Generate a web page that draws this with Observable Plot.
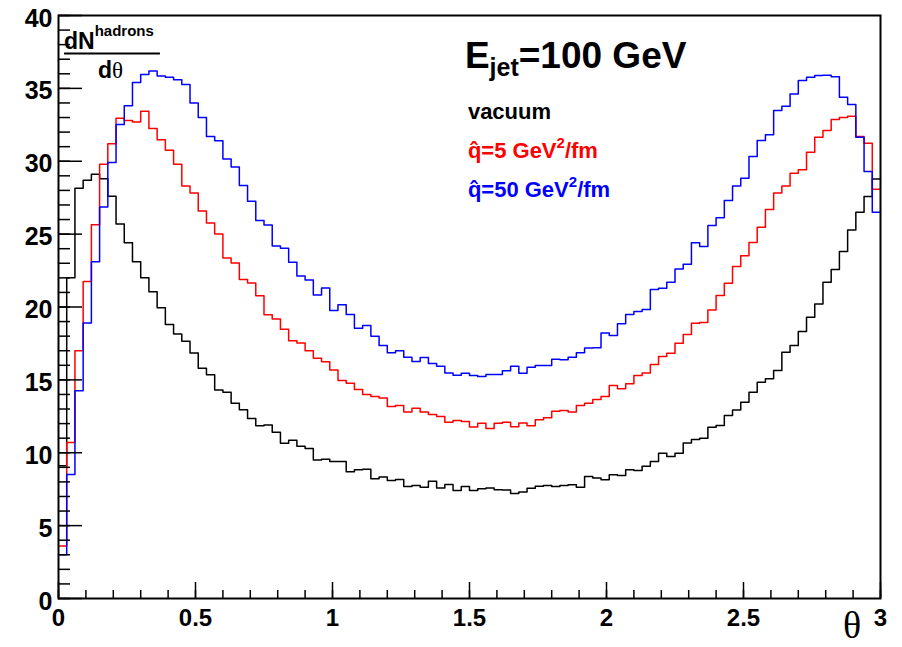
<!DOCTYPE html>
<html>
<head>
<meta charset="utf-8">
<script src="https://cdn.jsdelivr.net/npm/d3@7"></script>
<script src="https://cdn.jsdelivr.net/npm/@observablehq/plot@0.6"></script>
<style>
  body { margin: 0; background: #fff; }
  svg { display: block; }
</style>
</head>
<body>
<div id="chart"></div>
<script>
// ---- data (100 bins of width 0.03 on theta in [0,3]) ----
const binWidth = 0.03;

const vacuum = [
  9.1, 22.0, 28.15, 28.7, 29.1, 28.8, 27.6, 25.7, 24.4, 23.1,
  22.0, 21.05, 19.95, 18.8, 18.15, 17.65, 16.85, 15.8, 15.35, 14.3,
  14.15, 13.4, 12.95, 12.35, 11.85, 11.9, 11.4, 10.65, 10.85, 10.45,
  10.3, 9.5, 9.55, 9.4, 9.4, 8.7, 8.83, 8.87, 8.21, 8.33,
  8.1, 8.17, 7.69, 7.75, 7.64, 8.05, 7.59, 7.82, 7.41, 7.69,
  7.41, 7.53, 7.59, 7.46, 7.44, 7.2, 7.3, 7.57, 7.71, 7.75,
  7.69, 7.75, 7.8, 7.64, 8.37, 8.26, 8.14, 8.49, 8.44, 8.83,
  8.78, 9.08, 9.4, 9.97, 9.74, 9.97, 10.67, 10.91, 11.0, 11.75,
  11.87, 12.55, 12.94, 13.47, 14.15, 14.84, 15.07, 15.64, 16.9, 17.36,
  18.32, 19.3, 20.21, 21.7, 22.57, 23.8, 25.29, 26.5, 27.58, 28.79
];

const qhat5 = [
  3.6, 10.7, 17.0, 21.75, 25.65, 29.8, 31.2, 32.95, 32.8, 32.7,
  33.43, 32.25, 31.47, 30.75, 29.8, 28.3, 27.83, 26.58, 25.77, 25.01,
  23.36, 23.02, 21.88, 21.65, 20.78, 19.47, 19.18, 18.47, 17.69, 17.53,
  17.0, 16.48, 16.25, 15.68, 14.95, 14.77, 14.34, 14.0, 13.86, 13.75,
  13.17, 13.24, 12.79, 13.06, 12.79, 12.63, 12.49, 12.1, 12.21, 12.15,
  11.76, 12.03, 11.66, 12.03, 12.1, 11.78, 12.04, 11.85, 12.26, 12.4,
  12.85, 12.9, 12.79, 13.24, 13.4, 13.65, 13.86, 14.62, 14.39, 14.73,
  15.3, 15.48, 16.06, 16.61, 16.83, 17.52, 18.11, 18.89, 18.93, 19.8,
  20.79, 21.63, 22.78, 23.51, 24.42, 25.47, 26.69, 27.83, 28.31, 29.18,
  29.41, 30.62, 31.65, 32.11, 32.86, 33.0, 33.09, 31.7, 31.24, 28.08
];

const qhat50 = [
  3.0, 8.5, 14.25, 18.9, 23.1, 26.86, 29.92, 32.52, 33.8, 35.41,
  35.96, 36.2, 35.85, 35.77, 35.6, 35.26, 34.0, 33.0, 31.69, 31.4,
  30.16, 29.6, 28.33, 27.25, 25.93, 25.63, 24.19, 24.03, 23.07, 22.13,
  21.85, 20.82, 21.3, 19.76, 20.16, 19.48, 18.55, 18.73, 18.0, 17.36,
  16.86, 17.0, 16.56, 16.26, 16.54, 16.12, 15.94, 15.48, 15.32, 15.46,
  15.3, 15.23, 15.37, 15.37, 15.62, 15.93, 15.46, 15.87, 15.99, 15.99,
  16.42, 16.38, 16.56, 16.86, 17.18, 17.2, 18.21, 18.05, 18.85, 19.49,
  19.69, 19.83, 21.2, 21.29, 21.7, 22.6, 22.93, 24.41, 24.15, 25.59,
  26.12, 27.3, 28.31, 28.84, 30.32, 31.42, 31.81, 33.48, 33.78, 34.62,
  35.54, 35.77, 35.88, 35.9, 35.79, 34.39, 33.89, 31.65, 29.29, 26.5
];

const seriesNames = ["vacuum", "q\u0302=5 GeV\u00b2/fm", "q\u0302=50 GeV\u00b2/fm"];
const seriesColors = ["#000000", "#ff0000", "#0000ff"];

const xMajorTicks = [0, 0.5, 1, 1.5, 2, 2.5, 3];
const xMinorTicks = d3.range(0, 31).map(i => i / 10);
const yMajorTicks = [0, 5, 10, 15, 20, 25, 30, 35, 40];
const yMinorTicks = d3.range(0, 41);

// ---- build step outlines from bin contents ----
function steps(values, name) {
  const pts = values.map((v, i) => ({x: i * binWidth, y: v, s: name}));
  pts.push({x: values.length * binWidth, y: values[values.length - 1], s: name});
  return pts;
}
const lineData = [
  ...steps(vacuum, seriesNames[0]),
  ...steps(qhat5, seriesNames[1]),
  ...steps(qhat50, seriesNames[2])
];

const fig = Plot.plot({
  width: 902,
  height: 647,
  marginLeft: 58,
  marginRight: 22,
  marginTop: 15,
  marginBottom: 49,
  style: {fontFamily: "'Liberation Sans', Arial, Helvetica, sans-serif", fontWeight: "bold", background: "#fff", color: "#000"},
  x: {domain: [0, 3]},
  y: {domain: [0, 40]},
  color: {domain: seriesNames, range: seriesColors},
  marks: [
    Plot.lineY(lineData, {x: "x", y: "y", z: "s", stroke: "s", curve: "step-after", strokeWidth: 1.5}),
    // y ticks (inside the frame)
    Plot.axisY(yMinorTicks, {tickSize: 12, dx: 12, tickFormat: () => "", label: null, strokeWidth: 1.5}),
    Plot.axisY(yMajorTicks, {tickSize: 24, dx: 24, tickFormat: () => "", label: null, strokeWidth: 1.5}),
    Plot.axisY(yMajorTicks, {tickSize: 0, tickPadding: 6, dy: 3, fontSize: 25, fontWeight: "bold", label: null}),
    // x ticks (inside the frame)
    Plot.axisX(xMinorTicks, {tickSize: 8, dy: -8, tickFormat: () => "", label: null, strokeWidth: 1.5}),
    Plot.axisX(xMajorTicks, {tickSize: 16, dy: -16, tickFormat: () => "", label: null, strokeWidth: 1.5}),
    Plot.axisX(xMajorTicks, {tickSize: 0, tickPadding: 10, fontSize: 24, fontWeight: "bold", label: null, tickFormat: d => String(d)}),
    Plot.frame({stroke: "#000", strokeWidth: 2})
  ]
});

document.getElementById("chart").appendChild(fig);

// ---- annotations placed through the plot's scales ----
const xs = fig.scale("x"), ys = fig.scale("y");
const svg = d3.select(fig);
const ann = svg.append("g")
  .attr("font-family", "'Liberation Sans', Arial, Helvetica, sans-serif")
  .attr("font-weight", "bold")
  .attr("text-anchor", "start");

// title
const title = ann.append("text").attr("x", xs.apply(1.485)).attr("y", ys.apply(36.36)).attr("font-size", 37).attr("fill", "#000");
title.append("tspan").text("E");
title.append("tspan").attr("font-size", 25).attr("dy", 8).text("jet");
title.append("tspan").attr("dy", -8).text("=100 GeV");

// legend texts
const legendY = [32.86, 30.19, 27.51];
seriesNames.forEach((name, i) => {
  const t = ann.append("text").attr("x", xs.apply(1.496)).attr("y", ys.apply(legendY[i])).attr("font-size", 22).attr("fill", seriesColors[i]);
  if (i === 0) { t.text(name); return; }
  const m = name.match(/^(.*GeV)\u00b2(.*)$/);
  t.append("tspan").text(m[1]);
  t.append("tspan").attr("font-size", 15).attr("dy", -10).text("2");
  t.append("tspan").attr("dy", 10).text(m[2]);
});

// y-axis title as fraction dN^hadrons / dθ
const yt = ann.append("text").attr("x", xs.apply(0.022)).attr("y", ys.apply(37.67)).attr("font-size", 23).attr("fill", "#000");
yt.append("tspan").text("dN");
yt.append("tspan").attr("font-size", 15).attr("dy", -13).text("hadrons");
ann.append("line")
  .attr("x1", xs.apply(0.022)).attr("x2", xs.apply(0.372))
  .attr("y1", ys.apply(37.36)).attr("y2", ys.apply(37.36))
  .attr("stroke", "#000").attr("stroke-width", 2);
const yb = ann.append("text").attr("x", xs.apply(0.146)).attr("y", ys.apply(35.68)).attr("font-size", 23).attr("fill", "#000");
yb.append("tspan").text("d");
yb.append("tspan").attr("font-family", "'Liberation Serif', 'Times New Roman', serif").attr("font-weight", "normal").text("\u03b8");

// x-axis title θ
ann.append("text").attr("x", xs.apply(2.865)).attr("y", ys.apply(-2.75))
  .attr("font-family", "'Liberation Serif', 'Times New Roman', serif").attr("font-weight", "normal")
  .attr("font-size", 38).attr("fill", "#000").text("\u03b8");
</script>
</body>
</html>
